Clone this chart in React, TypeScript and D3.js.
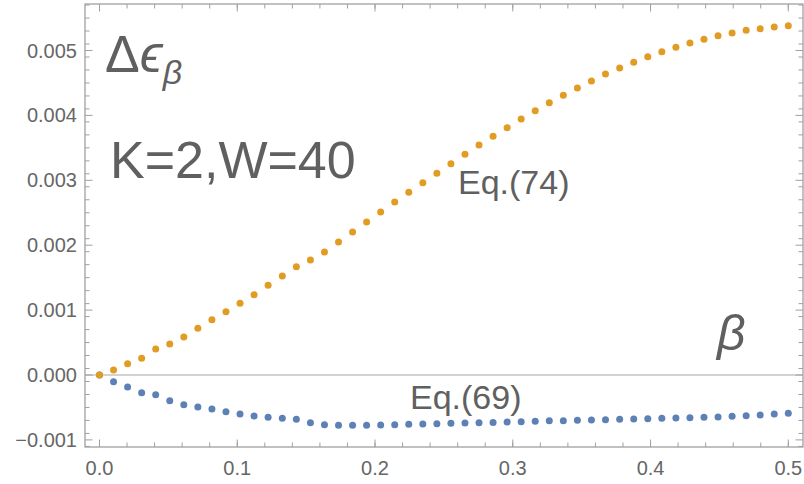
import React from "react";
import * as d3 from "d3";

const betas = [0, 0.0102, 0.0204, 0.0306, 0.0408, 0.051, 0.0612, 0.0714, 0.0816, 0.0918, 0.102, 0.1122, 0.1224, 0.1327, 0.1429, 0.1531, 0.1633, 0.1735, 0.1837, 0.1939, 0.2041, 0.2143, 0.2245, 0.2347, 0.2449, 0.2551, 0.2653, 0.2755, 0.2857, 0.2959, 0.3061, 0.3163, 0.3265, 0.3367, 0.3469, 0.3571, 0.3673, 0.3776, 0.3878, 0.398, 0.4082, 0.4184, 0.4286, 0.4388, 0.449, 0.4592, 0.4694, 0.4796, 0.4898, 0.5];

// Eq.(74), units of 1e-3
const eq74 = [0, 0.077, 0.174, 0.257, 0.401, 0.478, 0.586, 0.719, 0.852, 0.976, 1.105, 1.237, 1.382, 1.525, 1.669, 1.772, 1.895, 2.049, 2.203, 2.357, 2.512, 2.665, 2.815, 2.963, 3.108, 3.256, 3.4, 3.544, 3.678, 3.811, 3.945, 4.073, 4.196, 4.31, 4.422, 4.53, 4.638, 4.73, 4.818, 4.904, 4.982, 5.049, 5.116, 5.173, 5.228, 5.27, 5.311, 5.336, 5.362, 5.382];

// Eq.(69), units of 1e-3
const eq69 = [0, -0.103, -0.185, -0.272, -0.303, -0.395, -0.457, -0.493, -0.524, -0.565, -0.601, -0.632, -0.652, -0.667, -0.683, -0.735, -0.768, -0.776, -0.776, -0.776, -0.772, -0.766, -0.76, -0.755, -0.75, -0.745, -0.74, -0.735, -0.73, -0.725, -0.72, -0.714, -0.706, -0.704, -0.699, -0.693, -0.688, -0.683, -0.678, -0.673, -0.668, -0.663, -0.657, -0.652, -0.647, -0.637, -0.627, -0.616, -0.601, -0.59];

const xTicks = [0, 0.1, 0.2, 0.3, 0.4, 0.5];
const xTickLabels = ["0.0", "0.1", "0.2", "0.3", "0.4", "0.5"];
const yTicks = [-0.001, 0, 0.001, 0.002, 0.003, 0.004, 0.005];
const yTickLabels = ["\u22120.001", "0.000", "0.001", "0.002", "0.003", "0.004", "0.005"];

const W = 804, H = 484;
const FL = 85, FR = 803, FT = 4, FB = 447;

export default function App() {
  const x0 = 99.5, x5 = 788.3;
  const kx = (x5 - x0) / 0.5;
  const x = d3.scaleLinear().domain([(FL - x0) / kx, (FR - x0) / kx]).range([FL, FR]);
  const y0 = 375, ky = 64900;
  const y = d3.scaleLinear().domain([(y0 - FB) / ky, (y0 - FT) / ky]).range([FB, FT]);

  const xMinor = d3.range(-0.0, 0.5101, 0.02).filter(v => x(v) > FL && x(v) < FR);
  const yMinor = d3.range(-0.0011, 0.0058, 0.0002).map(v => Math.round(v * 10000) / 10000).filter(v => y(v) > FT && y(v) < FB);

  const frameColor = "#a0a0a0";
  const textColor = "#666666";
  const font = "'Liberation Sans', Arial, sans-serif";
  const maj = 7.5, mnr = 4.5;

  return (
    <svg width={W} height={H} style={{ position: "absolute", left: 0, top: 0, background: "#fff" }} fontFamily={font}>
      {/* zero axis */}
      <line x1={FL} x2={FR} y1={y(0)} y2={y(0)} stroke="#a8a8a8" strokeWidth={1.2} />
      {/* frame */}
      <rect x={FL} y={FT} width={FR - FL} height={FB - FT} fill="none" stroke={frameColor} strokeWidth={1.3} />
      {/* x ticks bottom & top */}
      {xMinor.map((v, i) => (
        <g key={"xm" + i}>
          <line x1={x(v)} x2={x(v)} y1={FB} y2={FB - mnr} stroke={frameColor} />
          <line x1={x(v)} x2={x(v)} y1={FT} y2={FT + mnr} stroke={frameColor} />
        </g>
      ))}
      {xTicks.map((v, i) => (
        <g key={"xt" + i}>
          <line x1={x(v)} x2={x(v)} y1={FB} y2={FB - maj} stroke={frameColor} />
          <line x1={x(v)} x2={x(v)} y1={FT} y2={FT + maj} stroke={frameColor} />
          <text x={x(v)} y={475} textAnchor="middle" fontSize={20} fill={textColor}>{xTickLabels[i]}</text>
        </g>
      ))}
      {/* y ticks left & right */}
      {yMinor.map((v, i) => (
        <g key={"ym" + i}>
          <line x1={FL} x2={FL + mnr} y1={y(v)} y2={y(v)} stroke={frameColor} />
          <line x1={FR} x2={FR - mnr} y1={y(v)} y2={y(v)} stroke={frameColor} />
        </g>
      ))}
      {yTicks.map((v, i) => (
        <g key={"yt" + i}>
          <line x1={FL} x2={FL + maj} y1={y(v)} y2={y(v)} stroke={frameColor} />
          <line x1={FR} x2={FR - maj} y1={y(v)} y2={y(v)} stroke={frameColor} />
          <text x={77} y={y(v) + 7} textAnchor="end" fontSize={20} fill={textColor}>{yTickLabels[i]}</text>
        </g>
      ))}
      {/* data */}
      {eq69.map((v, i) => (
        <circle key={"b" + i} cx={x(betas[i])} cy={y(v / 1000)} r={3.5} fill="#5E81B5" />
      ))}
      {eq74.map((v, i) => (
        <circle key={"o" + i} cx={x(betas[i])} cy={y(v / 1000)} r={3.5} fill="#E19C24" />
      ))}
      {/* labels */}
      <text x={105} y={72} fontSize={52} fill="#606060">
        Δ<tspan fontStyle="italic">ϵ</tspan><tspan fontStyle="italic" fontSize={34} dy={12}>β</tspan>
      </text>
      <text x={110} y={178} fontSize={52} fill="#606060">K=2,W=40</text>
      <text x={458} y={194} fontSize={34} fill="#606060">Eq.(74)</text>
      <text x={410} y={409} fontSize={34} fill="#606060">Eq.(69)</text>
      <text x={717} y={350} fontSize={50} fontStyle="italic" fill="#606060">β</text>
    </svg>
  );
}
